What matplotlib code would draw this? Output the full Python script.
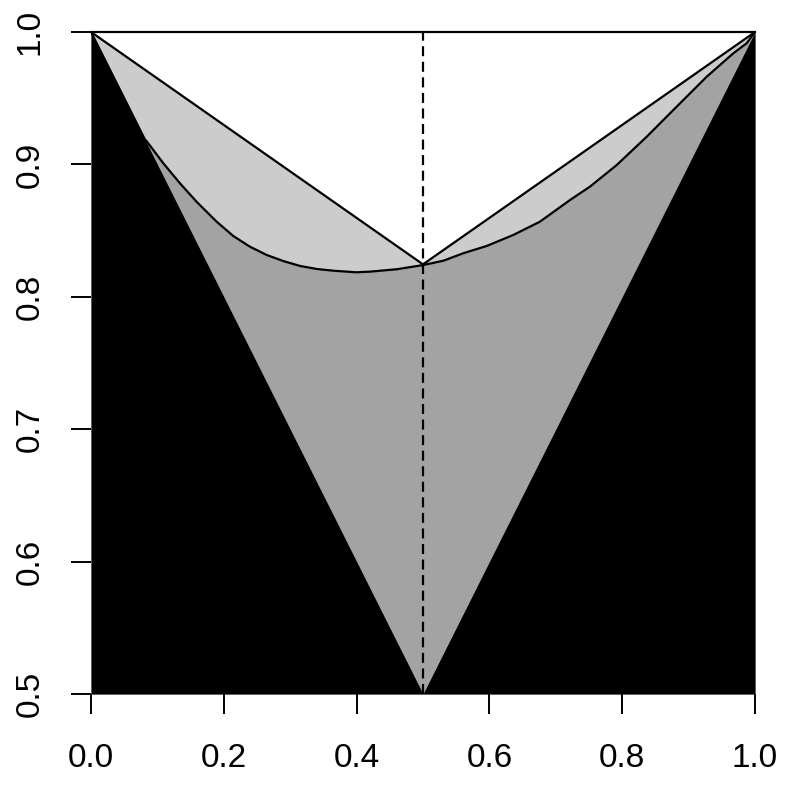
import matplotlib
matplotlib.use("Agg")
import matplotlib.pyplot as plt

# Data
lower_x = [0.0, 0.5, 1.0]
lower_y = [1.0, 0.5, 1.0]
upper_x = [0.0, 0.5, 1.0]
upper_y = [1.0, 0.8245, 1.0]
curve_x = [0.0, 0.081, 0.0838, 0.109, 0.134, 0.159, 0.1893, 0.2143, 0.2395, 0.2646,
           0.2896, 0.3148, 0.340, 0.365, 0.400, 0.420, 0.4604, 0.5005, 0.531, 0.5607,
           0.596, 0.636, 0.676, 0.7214, 0.7515, 0.7917, 0.8369, 0.882, 0.9272,
           0.9673, 0.9875, 1.0]
curve_y = [1.0, 0.919, 0.9175, 0.9008, 0.8857, 0.8718, 0.8567, 0.8459, 0.8378, 0.8316,
           0.827, 0.8233, 0.821, 0.8197, 0.8185, 0.819, 0.8208, 0.824, 0.8273, 0.8329,
           0.8384, 0.8467, 0.8567, 0.8731, 0.8832, 0.8995, 0.9209, 0.9436, 0.9662,
           0.9839, 0.9915, 1.0]
mid_x = 0.5
x_ticks = [0.0, 0.2, 0.4, 0.6, 0.8, 1.0]
x_labels = ["0.0", "0.2", "0.4", "0.6", "0.8", "1.0"]
y_ticks = [0.5, 0.6, 0.7, 0.8, 0.9, 1.0]
y_labels = ["0.5", "0.6", "0.7", "0.8", "0.9", "1.0"]

plt.rcParams['font.family'] = ['Liberation Sans', 'DejaVu Sans']

fig = plt.figure(figsize=(7.87, 7.87), dpi=100)
ax = fig.add_axes([91/787, 1-694/787, (755-91)/787, (694-32)/787])
ymin, ymax = 0.5, 1.0

ax.fill_between(upper_x, upper_y, ymin, color="#CCCCCC", lw=0)
ax.fill_between(curve_x, curve_y, ymin, color="#A3A3A3", lw=0)
ax.fill_between(lower_x, lower_y, ymin, color="black", lw=0)

ax.plot(upper_x, upper_y, color="black", lw=1.6)
ax.plot(curve_x, curve_y, color="black", lw=1.6)
ax.plot([0.0, 1.0], [1.0, 1.0], color="black", lw=1.6, clip_on=False)
ax.plot([mid_x, mid_x], [ymin, ymax], color="black", lw=1.6, ls=(0, (4.5, 2.5)))

ax.set_xlim(0, 1)
ax.set_ylim(ymin, ymax)
for s in ax.spines.values():
    s.set_visible(False)
ax.set_xticks(x_ticks)
ax.set_xticklabels(x_labels)
ax.set_yticks(y_ticks)
ax.set_yticklabels(y_labels, rotation=90, va="center")
ax.tick_params(direction="out", length=14.5, width=1.4, labelsize=24, pad=18)
ax.tick_params(axis="x", pad=21)

fig.savefig("out.png", dpi=100, facecolor="white")
